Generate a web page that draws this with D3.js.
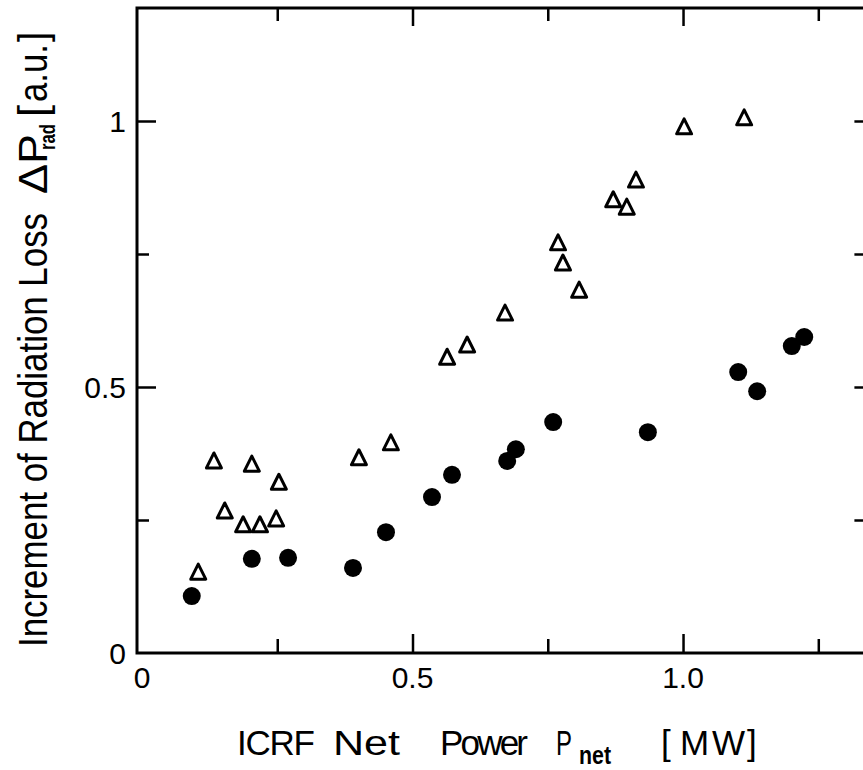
<!DOCTYPE html>
<html lang="en">
<head>
    <meta charset="UTF-8">
    <title>Radiation loss vs ICRF net power</title>
    <script src="https://cdn.jsdelivr.net/npm/d3@7/dist/d3.min.js"></script>
    <style>
        body { margin: 0; background: #fff; }
        svg text { font-family: "Liberation Sans", Arial, sans-serif; fill: #000; }
    </style>
</head>
<body>
    <svg id="chart" width="863" height="770"></svg>

    <script type="text/javascript">
    "use strict";

    // open triangles
    var triPower = [0.104, 0.133, 0.153, 0.187, 0.203, 0.218, 0.248, 0.253, 0.401, 0.460,
                    0.564, 0.601, 0.671, 0.769, 0.778, 0.808, 0.871, 0.896, 0.913, 1.002, 1.113];
    var triLoss  = [0.152, 0.361, 0.267, 0.241, 0.355, 0.241, 0.252, 0.321, 0.367, 0.395,
                    0.556, 0.579, 0.639, 0.771, 0.733, 0.682, 0.852, 0.838, 0.889, 0.989, 1.006];

    // filled circles
    var dotPower = [0.092, 0.203, 0.270, 0.390, 0.451, 0.536, 0.573, 0.675, 0.691, 0.760,
                    0.935, 1.102, 1.137, 1.201, 1.224];
    var dotLoss  = [0.107, 0.177, 0.179, 0.160, 0.227, 0.293, 0.335, 0.361, 0.383, 0.434,
                    0.415, 0.528, 0.492, 0.577, 0.594];

    var xMajor = [0.5, 1.0];
    var xMinor = [0.25, 0.75, 1.25];
    var yMajor = [0.5, 1.0];
    var yMinor = [0.25, 0.75];
    var xLabels = [0, 0.5, 1.0];
    var yLabels = [0, 0.5, 1];

    var svg = d3.select("#chart");

    // right edge of the frame runs past the window, as in the scan
    var x = d3.scaleLinear().domain([-0.0092, 1.35]).range([137, 872.4]);
    var y = d3.scaleLinear().domain([0, 1.2124]).range([653, 8]);

    var frameL = x.range()[0], frameR = x.range()[1];
    var frameB = y.range()[0], frameT = y.range()[1];

    function drawTicks(axis, vals, size, transform) {
        svg.append("g")
            .attr("transform", transform)
            .call(axis.tickValues(vals).tickSize(size).tickSizeOuter(0).tickFormat(""))
            .call(function (g) { g.select(".domain").remove(); })
            .selectAll("line").attr("stroke", "#000").attr("stroke-width", 2.5);
    }

    // ticks point inward on every side
    drawTicks(d3.axisBottom(x), xMajor, -19, "translate(0," + frameB + ")");
    drawTicks(d3.axisBottom(x), xMinor, -14, "translate(0," + frameB + ")");
    drawTicks(d3.axisTop(x), xMajor, -18, "translate(0," + frameT + ")");
    drawTicks(d3.axisTop(x), xMinor, -13, "translate(0," + frameT + ")");
    drawTicks(d3.axisLeft(y), yMajor, -19, "translate(" + frameL + ",0)");
    drawTicks(d3.axisLeft(y), yMinor, -12, "translate(" + frameL + ",0)");
    drawTicks(d3.axisRight(y), yMajor.concat(yMinor), -18, "translate(" + frameR + ",0)");

    svg.append("rect")
        .attr("x", frameL).attr("y", frameT)
        .attr("width", frameR - frameL).attr("height", frameB - frameT)
        .attr("fill", "none").attr("stroke", "#000").attr("stroke-width", 3);

    // tick labels
    svg.selectAll(".xlab").data(xLabels).enter().append("text")
        .attr("class", "xlab")
        .attr("x", function (d) { return x(d); })
        .attr("y", 688)
        .attr("text-anchor", "middle")
        .attr("font-size", 30)
        .text(function (d) { return d === 0 ? "0" : d.toFixed(1); });

    svg.selectAll(".ylab").data(yLabels).enter().append("text")
        .attr("class", "ylab")
        .attr("x", 126)
        .attr("y", function (d) { return y(d) + 11; })
        .attr("text-anchor", "end")
        .attr("font-size", 30)
        .text(function (d) { return String(d); });

    // markers
    var triPath = "M0,-8L7.5,7L-7.5,7Z";

    svg.selectAll(".tri").data(triPower).enter().append("path")
        .attr("class", "tri")
        .attr("d", triPath)
        .attr("transform", function (d, i) { return "translate(" + x(d) + "," + y(triLoss[i]) + ")"; })
        .attr("fill", "#fff").attr("stroke", "#000").attr("stroke-width", 3)
        .attr("stroke-linejoin", "round");

    svg.selectAll(".dot").data(dotPower).enter().append("circle")
        .attr("class", "dot")
        .attr("cx", function (d) { return x(d); })
        .attr("cy", function (d, i) { return y(dotLoss[i]); })
        .attr("r", 9)
        .attr("fill", "#000");

    // x axis title
    function word(str, x0, x1, base, size, weight, adjust) {
        svg.append("text")
            .attr("x", x0).attr("y", base)
            .attr("font-size", size)
            .attr("font-weight", weight || "normal")
            .attr("textLength", x1 - x0)
            .attr("lengthAdjust", adjust || "spacing")
            .text(str);
    }
    word("ICRF", 237, 315, 755, 35);
    word("Net", 333, 400, 755, 35, "normal", "spacingAndGlyphs");
    word("Power", 440, 528, 755, 35);
    word("P", 556, 572, 755, 35, "normal", "spacingAndGlyphs");
    word("net", 579, 611, 764, 25, "bold", "spacingAndGlyphs");
    word("[", 661, 672, 755, 35);
    word("MW", 680, 745, 755, 35);
    word("]", 747, 757, 755, 35);

    // y axis title, reads bottom to top
    var yt = svg.append("g").attr("transform", "rotate(-90)");
    function vword(str, y0, y1, base, size, weight) {
        yt.append("text")
            .attr("x", -y0).attr("y", base)
            .attr("font-size", size)
            .attr("font-weight", weight || "normal")
            .attr("textLength", y0 - y1)
            .attr("lengthAdjust", "spacingAndGlyphs")
            .text(str);
    }
    vword("Increment of Radiation Loss", 647, 213, 47, 41);
    vword("\u0394P", 194, 134, 47, 41);
    vword("rad", 150, 124, 55, 22, "bold");
    vword("[", 117, 105, 47, 41);
    vword("a.u.", 102, 44, 47, 41);
    vword("]", 42, 32, 47, 41);
    </script>
</body>
</html>
